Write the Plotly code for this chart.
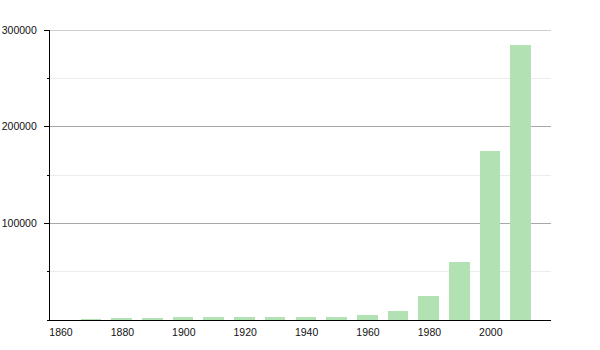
import plotly.graph_objects as go

years = [1870, 1880, 1890, 1900, 1910, 1920, 1930, 1940, 1950, 1960, 1970, 1980, 1990, 2000, 2010]
population = [1000, 2000, 2000, 3000, 3200, 3200, 3000, 2800, 2800, 5000, 9000, 25000, 60000, 175000, 285000]
x_ticks = [1860, 1880, 1900, 1920, 1940, 1960, 1980, 2000]
y_ticks = [100000, 200000, 300000]

fig = go.Figure(go.Bar(
    x=years, y=population,
    offset=0, width=6.7,
    marker=dict(color="#b2e2b4", line=dict(width=0)),
))

fig.update_layout(
    width=600, height=350,
    margin=dict(l=50, r=49, t=30, b=30, autoexpand=False),
    paper_bgcolor="white", plot_bgcolor="white",
    font=dict(family="Liberation Sans, Arial", size=10.5, color="#111"),
    showlegend=False,
    bargap=0,
)
fig.add_hline(y=y_ticks[-1], line=dict(color="#a0a0a0", width=1.2), layer="below")
fig.update_xaxes(
    range=[1860, 2023.2],
    tickvals=x_ticks, ticktext=[str(v) for v in x_ticks],
    ticklabelshift=11, ticklabelstandoff=2,
    automargin=False,
    ticks="", showgrid=False, zeroline=False,
    showline=True, linecolor="black", linewidth=1.3,
)
fig.update_yaxes(
    range=[0, 300000],
    tickvals=y_ticks, ticktext=[str(v) for v in y_ticks],
    ticklabelstandoff=5,
    automargin=False,
    ticks="outside", ticklen=5, tickcolor="black",
    showgrid=True, gridcolor="#a8a8a8", gridwidth=1,
    zeroline=False,
    showline=True, linecolor="black", linewidth=1.3,
    minor=dict(dtick=50000, showgrid=True, gridcolor="#ececec", ticks="outside", ticklen=2, tickcolor="black"),
)

fig.write_html("out.html")
